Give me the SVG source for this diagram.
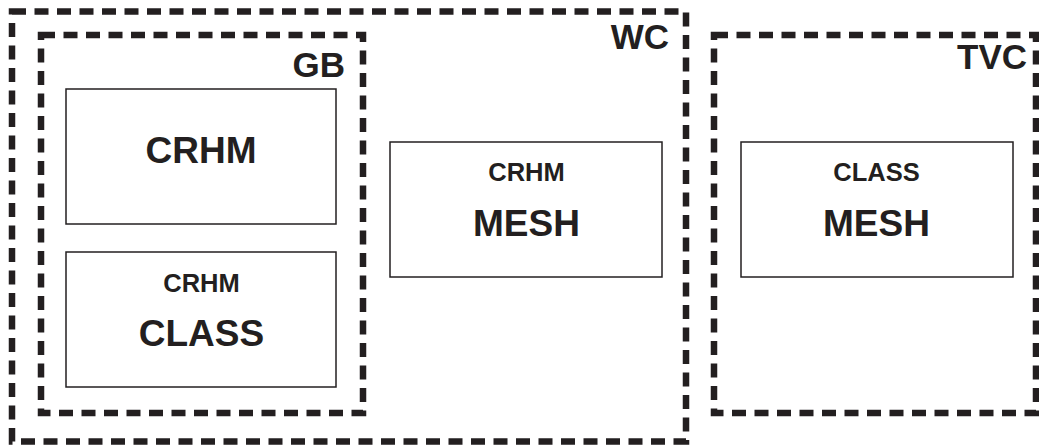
<svg xmlns="http://www.w3.org/2000/svg" width="1039" height="446" viewBox="0 0 1039 446">
<style>
.region{fill:none;stroke:#231f20;stroke-width:6.5;stroke-dasharray:14 8.5}
.box{fill:#fff;stroke:#231f20;stroke-width:1.5}
text{font-family:"Liberation Sans",Arial,sans-serif;font-weight:bold;fill:#231f20}
.big{font-size:37px;text-anchor:middle}
.small{font-size:25.5px;text-anchor:middle}
.lab{font-size:35px;text-anchor:end}
</style>
<rect width="1039" height="446" fill="#fff"/>
<g id="WC">
<rect class="region" x="12" y="11.5" width="674" height="430"/>
<text class="lab" x="669" y="49">WC</text>
</g>
<g id="GB">
<rect class="region" x="41" y="35" width="322" height="378"/>
<text class="lab" x="345" y="77">GB</text>
</g>
<g id="TVC">
<rect class="region" x="714" y="35" width="322" height="378"/>
<text class="lab" x="1027" y="69">TVC</text>
</g>
<g id="crhm">
<rect class="box" x="66" y="89" width="270" height="135"/>
<text class="big" x="201" y="163">CRHM</text>
</g>
<g id="crhm-class">
<rect class="box" x="66" y="252" width="270" height="135"/>
<text class="small" x="201.5" y="292">CRHM</text>
<text class="big" x="201.5" y="346">CLASS</text>
</g>
<g id="crhm-mesh">
<rect class="box" x="390" y="142" width="272" height="135"/>
<text class="small" x="526.5" y="181">CRHM</text>
<text class="big" x="526.5" y="236">MESH</text>
</g>
<g id="class-mesh">
<rect class="box" x="741" y="142" width="272" height="135"/>
<text class="small" x="876.5" y="181">CLASS</text>
<text class="big" x="876.5" y="236">MESH</text>
</g>
<g id="connectors"></g>
</svg>
